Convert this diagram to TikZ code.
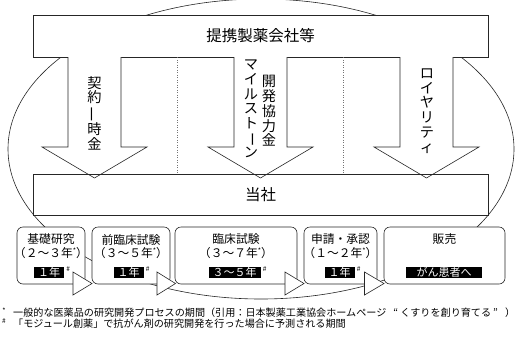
\documentclass[tikz,border=0pt]{standalone}
\usepackage{fontspec}
\usepackage{graphicx}
\setmainfont{Noto Sans CJK JP}
\newcommand\supmark[1]{\raisebox{0.38em}{\fontsize{7}{7}\selectfont #1}}
\begin{document}
\begin{tikzpicture}[x=1pt,y=-1pt,
  line/.style={draw=black!85, line width=0.6pt},
  topbox/.style={line, fill=white, minimum width=455pt, inner sep=0pt, font=\fontsize{15.5}{17}\selectfont},
  stage/.style={line, fill=white, rounded corners=6pt, minimum height=57pt, inner sep=0pt},
  stext/.style={font=\fontsize{11.8}{13}\selectfont, inner sep=0pt},
  blabel/.style={fill=black, text=white, font=\fontsize{11}{11}\selectfont, inner xsep=4pt, inner ysep=0.3pt},
  hashmark/.style={font=\fontsize{6.5}{6.5}\selectfont, inner sep=0pt, anchor=north west},
  vtext/.style={font=\fontsize{14.2}{14.7}\selectfont, align=center, inner sep=0pt},
  blockarrow/.style={line, fill=white, line join=miter},
  tri/.style={line, fill=white, line join=miter},
  divider/.style={draw=black!55, dotted, line width=0.5pt},
  fnote/.style={font=\fontsize{10.1}{11}\selectfont, inner sep=0pt, anchor=west}
]
\useasboundingbox (0,0) rectangle (521,343);

% enclosing ellipse
\draw[line] (261,149) ellipse [x radius=253, y radius=150];

% top box
\node[topbox, minimum height=42pt] (partner) at (260.5,36) {提携製薬会社等};

% block arrows
\foreach \c in {94.5,260.5,426.5}{
  \draw[blockarrow] (\c-26.5,57) -- (\c-26.5,147) -- (\c-52.5,147) -- (\c,178)
    -- (\c+52.5,147) -- (\c+26.5,147) -- (\c+26.5,57);
}

% dotted dividers
\coordinate (d1t) at (177,57.3);
\coordinate (d1b) at (177,174);
\coordinate (d2t) at (343.5,57.3);
\coordinate (d2b) at (343.5,174);
\draw[divider] (d1t) -- (d1b);
\draw[divider] (d2t) -- (d2b);

% company box
\node[line, minimum width=455pt, minimum height=41pt, inner sep=0pt, font=\fontsize{15.5}{17}\selectfont] (company) at (260.5,194.5) {当社};

% arrow labels
\node[vtext] at (94.5,113) {契\\約\\\rotatebox[origin=c]{90}{一}\\時\\金};
\node[vtext] at (269,111) {開\\発\\協\\力\\金};
\node[vtext] at (251,109) {マ\\イ\\ル\\ス\\ト\\\rotatebox[origin=c]{-90}{ー}\\ン};
\node[vtext] at (427,111) {ロ\\イ\\ヤ\\リ\\テ\\ィ};

% stage boxes
\node[stage, minimum width=68pt] (b1) at (51,255.5) {};
\node[stage, minimum width=78pt] (b2) at (131,255.5) {};
\node[stage, minimum width=122pt] (b3) at (236,255.5) {};
\node[stage, minimum width=73pt] (b4) at (340.5,255.5) {};
\node[stage, minimum width=121pt] (b5) at (444.5,255.5) {};

% triangles between stages
\draw[tri] (73,272) -- (92,283.5) -- (73,295) -- cycle;
\draw[tri] (157,272) -- (175.5,283.5) -- (157,295) -- cycle;
\draw[tri] (285,272) -- (304,283.5) -- (285,295) -- cycle;
\draw[tri] (364.5,272) -- (384,283.5) -- (364.5,295) -- cycle;

% stage texts
\node[stext] at (51,239.5) {基礎研究};
\node[stext] at (51,253.5) {（２～３年\supmark{*}）};
\node[blabel] (l1) at (49,272.5) {１年};
\node[hashmark] at ([xshift=2pt]l1.north east) {\#};

\node[stext] at (131,239.5) {前臨床試験};
\node[stext] at (131,253.5) {（３～５年\supmark{*}）};
\node[blabel] (l2) at (128.5,272.5) {１年};
\node[hashmark] at ([xshift=2pt]l2.north east) {\#};

\node[stext] at (236,239.5) {臨床試験};
\node[stext] at (236,253.5) {（３～７年\supmark{*}）};
\node[blabel] (l3) at (234.5,272.5) {３～５年};
\node[hashmark] at ([xshift=2pt]l3.north east) {\#};

\node[stext] at (340.5,239.5) {申請・承認};
\node[stext] at (340.5,253.5) {（１～２年\supmark{*}）};
\node[blabel] (l4) at (339.5,272.5) {１年};
\node[hashmark] at ([xshift=2pt]l4.north east) {\#};

\node[stext] at (444.5,239.5) {販売};
\node[blabel, minimum width=76pt] (l5) at (444,272.5) {がん患者へ};

% footnotes
\node[font=\fontsize{7}{7}\selectfont, inner sep=0pt] at (4,310.5) {*};
\node[fnote] at (13,313) {一般的な医薬品の研究開発プロセスの期間（引用：日本製薬工業協会ホームページ\hspace{0.7em}“\hspace{0.2em}くすりを創り育てる\hspace{0.2em}”\hspace{0.7em}）};
\node[font=\fontsize{6.5}{6.5}\selectfont, inner sep=0pt] at (4,321) {\#};
\node[fnote] at (13,324) {「モジュール創薬」で抗がん剤の研究開発を行った場合に予測される期間};
\end{tikzpicture}
\end{document}
